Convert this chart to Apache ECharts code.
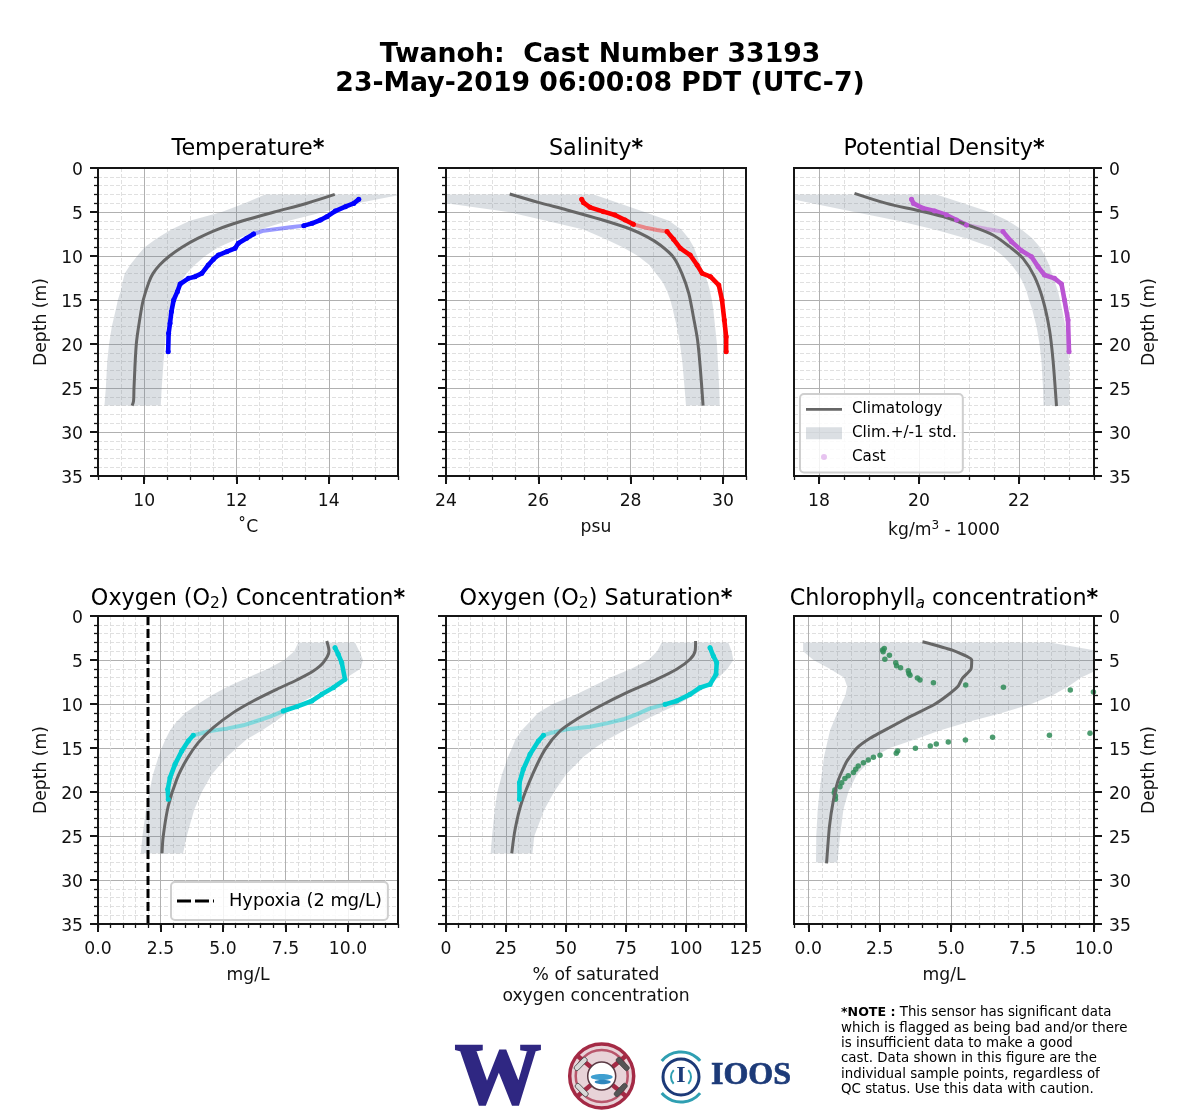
<!DOCTYPE html>
<html><head><meta charset="utf-8">
<style>html,body{margin:0;padding:0;background:#fff}#c{width:1200px;height:1120px}</style>
<script src="https://cdn.jsdelivr.net/npm/echarts@6/dist/echarts.min.js"></script>
</head><body><div id="c"></div>
<script>
const FONT = 'DejaVu Sans';
const depthTicks = [0,5,10,15,20,25,30,35];
const tempTicks = [10,12,14];
const salTicks = [24,26,28,30];
const densTicks = [18,20,22];
const o2Ticks = [0,2.5,5,7.5,10];
const satTicks = [0,25,50,75,100,125];
const chlTicks = [0,2.5,5,7.5,10];

// climatology
const tempClimDepth = [3,4,5,6,7,8,9,10,11,12,13,15,17,20,25,26.5,27];
const tempClim = [14.13,13.53,12.82,12.14,11.58,11.16,10.82,10.55,10.34,10.19,10.1,9.98,9.91,9.83,9.78,9.77,9.74];
const salClimDepth = [2.95,3.9,4.77,5.83,6.93,7.8,8.75,10.15,11.97,14.24,16.9,19.55,22.76,27];
const salClim = [25.38,26.0,26.62,27.34,27.99,28.35,28.64,28.93,29.11,29.26,29.36,29.45,29.51,29.57];
const densClimDepth = [2.88,4.02,4.85,5.53,6.55,7.61,8.94,10.27,12.35,15,18.4,21.8,27.05];
const densClim = [18.71,19.35,20.0,20.48,21.01,21.48,21.81,22.08,22.31,22.48,22.61,22.68,22.75];
const o2ClimDepth = [2.84,3.98,5.3,6.25,7.27,8.33,9.66,10.98,12.69,14.39,16.29,18.56,21.59,25,26.97];
const o2Clim = [9.15,9.24,9.01,8.61,7.95,7.15,6.21,5.41,4.61,4.01,3.55,3.15,2.81,2.61,2.56];
const satClimDepth = [2.84,3.98,4.92,6.06,7.2,8.71,10.23,11.74,13.07,15.15,17.8,21.2,24.24,26.97];
const satClim = [104,103.8,101.7,96.1,87.8,75.3,64.2,54.4,47.5,41.3,36.4,31.5,28.8,27.4];
const chlClimDepth = [2.92,3.86,5,6.06,7.08,7.95,9.09,10.11,11.44,12.65,13.9,15.04,16.55,18.64,20.9,23.94,28.1];
const chlClim = [4.0,5.02,5.72,5.69,5.39,5.25,4.84,4.38,3.56,2.86,2.16,1.69,1.34,1.05,0.88,0.74,0.64];

// climatology +/- 1 std
const bandDepth = [3,4,5,6,7,8,9,10,11,12,13,14,15,16,18,20,22,25,27];
const tempLow = [12.62,12.18,11.68,10.99,10.59,10.27,10.01,9.85,9.70,9.58,9.53,9.49,9.43,9.39,9.30,9.24,9.2,9.17,9.14];
const tempHigh = [15.6,14.62,13.89,13.13,12.51,12.04,11.61,11.32,11.10,10.92,10.78,10.69,10.62,10.56,10.49,10.45,10.42,10.38,10.36];
const salLow = [22.5,24.0,25.35,26.17,26.98,27.43,27.83,28.16,28.4,28.55,28.7,28.79,28.86,28.91,29.0,29.07,29.12,29.17,29.2];
const salHigh = [27.2,27.75,28.3,28.83,29.1,29.26,29.37,29.44,29.51,29.6,29.67,29.72,29.76,29.79,29.83,29.87,29.89,29.92,29.93];
const densLow = [17.0,17.85,18.71,19.58,20.31,20.95,21.45,21.68,21.85,21.98,22.08,22.15,22.2,22.26,22.35,22.41,22.45,22.48,22.49];
const densHigh = [20.35,20.88,21.41,21.78,22.05,22.27,22.42,22.52,22.6,22.66,22.72,22.78,22.82,22.86,22.93,22.97,23.0,23.01,23.01];
const o2Low = [8.01,7.85,7.45,6.8,6.0,5.2,4.55,4.0,3.5,3.15,2.88,2.7,2.55,2.42,2.2,2.05,1.92,1.78,1.71];
const o2High = [10.28,10.45,10.6,10.5,9.95,9.3,8.65,8.0,7.55,7.1,6.55,5.95,5.55,5.15,4.55,4.15,3.85,3.55,3.4];
const satLow = [89.9,88,84.3,77.2,68.5,61,53.5,44.5,38.4,35,31.5,29,27.5,25.9,23.3,21.4,20.3,19.2,18.6];
const satHigh = [117.6,119,119.7,117.3,113.5,109,103,97,89,81.7,74.3,67.5,62,57.3,50,45,41,36.8,36];
const chlBandDepth = [3,4,5,6,7,8,9,10,11,12,13,14,15,16,18,20,22,25,28];
const chlLow = [-0.18,-0.18,0.18,0.75,1.25,1.36,1.3,1.16,1.02,0.89,0.76,0.69,0.62,0.55,0.47,0.39,0.33,0.28,0.27];
const chlHigh = [8.46,10.2,10.9,10.2,9.55,9.1,8.55,7.8,6.8,5.65,4.6,3.75,2.85,2.3,1.7,1.4,1.23,1.11,1.02];

// cast samples; the *Fade pair is the sparsely sampled stretch between two indices
const tempCastDepth = [3.56,4.02,4.39,4.89,5.53,5.91,6.29,6.55,6.74,6.93,7.12,7.5,7.99,8.56,9.13,9.51,9.89,10.38,11.02,11.97,12.35,12.54,13.18,14.05,15,16.33,17.65,18.79,20.87];
const tempCast = [14.65,14.54,14.36,14.14,13.96,13.82,13.64,13.46,13.17,12.88,12.59,12.37,12.22,12.04,11.97,11.79,11.61,11.5,11.39,11.25,11.10,10.96,10.78,10.72,10.64,10.59,10.56,10.53,10.52];
const tempFade = [7,11];
const salCastDepth = [3.56,3.94,4.47,4.96,5.34,5.91,6.4,6.78,7.05,7.23,8.1,9.13,9.89,11.02,11.97,12.35,13.3,15,17.27,19.17,20.87];
const salCast = [26.94,26.98,27.12,27.41,27.66,27.88,28.06,28.32,28.57,28.79,28.93,29.08,29.29,29.44,29.55,29.73,29.91,29.98,30.03,30.07,30.07];
const salFade = [6,9];
const densCastDepth = [3.56,4.02,4.58,4.89,5.34,5.91,6.48,6.93,7.23,8.37,9.39,10.08,11.2,12.16,12.54,13.18,15,17.27,20.87];
const densCast = [19.85,19.89,20.08,20.31,20.55,20.75,20.95,21.35,21.68,21.85,22.05,22.25,22.38,22.51,22.71,22.85,22.91,22.98,23.0];
const densFade = [6,8];
const o2CastDepth = [3.6,4.36,5.3,7.2,8.14,8.9,9.66,10.3,10.8,11.44,11.93,12.42,12.8,13.07,13.56,14.2,15.34,16.86,18.37,19.7,20.83];
const o2Cast = [9.48,9.61,9.75,9.88,9.41,8.95,8.55,7.95,7.41,6.88,6.35,5.81,5.15,4.48,3.81,3.61,3.35,3.08,2.88,2.79,2.81];
const o2Fade = [8,14];
const satCastDepth = [3.6,4.55,5.3,6.63,7.77,8.14,8.9,9.66,10.04,10.5,11.17,11.74,12.2,12.58,12.88,13.26,13.56,14.2,15.72,17.42,18.94,20.83];
const satCast = [110,111.4,112.8,112.5,110,105.8,101.7,96.1,91.3,85,79.4,73.9,66.9,60,50.3,44,40.6,38.5,35,32.2,30.6,30.6];
const satFade = [8,16];
const chlCastDepth = [3.7,3.86,4.05,4.47,4.92,5.3,5.64,5.87,6.21,6.52,6.74,7.05,7.27,7.58,7.84,8.11,8.41,8.64,13.33,13.56,13.79,14.09,14.32,14.55,14.77,15.04,15.34,15.6,15.83,16.06,16.36,16.67,17.05,17.42,17.77,18.14,18.48,18.94,19.39,19.77,20.08,20.45,20.83];
const chlCast = [2.66,2.6,2.62,2.84,2.68,3.06,3.09,3.23,3.5,3.52,3.56,3.82,3.91,4.38,5.51,6.83,9.17,9.98,9.86,8.44,6.45,5.5,4.9,4.48,4.27,3.75,3.13,3.08,2.51,2.28,2.1,1.93,1.75,1.66,1.58,1.4,1.28,1.17,1.11,0.93,0.91,0.95,0.95];
const hypoxiaX = [2,2];
const hypoxiaDepth = [0,35];

const zip = (xs, ys) => xs.map((x, i) => [x, ys[i]]);
const GREY = '#666666', BAND = 'rgba(112,128,144,0.25)';
const AX = 17.2, TT = 22.3;
const panels = [
 {t:'Temperature{b|*}', name:'˚C', min:9, max:15.5, step:0.5, ticks:tempTicks, fmt:v=>String(v), smooth:0.3,
  cd:tempClimDepth, c:tempClim, bd:bandDepth, lo:tempLow, hi:tempHigh, xd:tempCastDepth, x:tempCast, fade:tempFade, col:'#0000ff', key:'Temperature'},
 {t:'Salinity{b|*}', name:'psu', min:24, max:30.5, step:0.5, ticks:salTicks, fmt:v=>String(v), smooth:0.3,
  cd:salClimDepth, c:salClim, bd:bandDepth, lo:salLow, hi:salHigh, xd:salCastDepth, x:salCast, fade:salFade, col:'#ff0000', key:'Salinity'},
 {t:'Potential Density{b|*}', name:'kg/m{sup|3} - 1000', min:17.5, max:23.5, step:0.5, ticks:densTicks, fmt:v=>String(v), smooth:0.3,
  cd:densClimDepth, c:densClim, bd:bandDepth, lo:densLow, hi:densHigh, xd:densCastDepth, x:densCast, fade:densFade, col:'#ba55d3', key:''},
 {t:'Oxygen (O{sub|2}) Concentration{b|*}', name:'mg/L', min:0, max:12, step:0.5, ticks:o2Ticks, fmt:v=>v.toFixed(1), smooth:0.3,
  cd:o2ClimDepth, c:o2Clim, bd:bandDepth, lo:o2Low, hi:o2High, xd:o2CastDepth, x:o2Cast, fade:o2Fade, col:'#00ced1', key:'O2'},
 {t:'Oxygen (O{sub|2}) Saturation{b|*}', name:'% of saturated\noxygen concentration', min:0, max:125, step:5, ticks:satTicks, fmt:v=>String(v), smooth:0.3,
  cd:satClimDepth, c:satClim, bd:bandDepth, lo:satLow, hi:satHigh, xd:satCastDepth, x:satCast, fade:satFade, col:'#00ced1', key:'Sat'},
 {t:'Chlorophyll{ita|a} concentration{b|*}', name:'mg/L', min:-0.5, max:10, step:0.5, ticks:chlTicks, fmt:v=>v.toFixed(1), smooth:0.15,
  cd:chlClimDepth, c:chlClim, bd:chlBandDepth, lo:chlLow, hi:chlHigh, xd:chlCastDepth, x:chlCast, fade:null, col:'#2e8b57', key:'Chl'}
];
const lefts = [98,446,794], tops = [168,616], W = 300, H = 308;
const grid=[], xAxis=[], yAxis=[], series=[], title=[];
const richTitle = {
  b:{fontFamily:FONT,fontSize:TT,fontWeight:'bold',color:'#000'},
  sub:{fontFamily:FONT,fontSize:15.5,color:'#000',verticalAlign:'bottom',lineHeight:26},
  ita:{fontFamily:FONT,fontSize:15.5,fontStyle:'italic',color:'#000',verticalAlign:'bottom',lineHeight:26}
};
panels.forEach((p,i)=>{
  const col=i%3,row=i<3?0:1,left=lefts[col],top=tops[row];
  grid.push({left,top,width:W,height:H,show:true,z:10,backgroundColor:'transparent',borderColor:'#151515',borderWidth:2});
  xAxis.push({type:'value',gridIndex:i,position:'bottom',min:p.min,max:p.max,interval:p.step,
    axisLine:{show:false,onZero:false},axisLabel:{show:false},
    axisTick:{show:true,length:4,lineStyle:{color:'#151515',width:1.3}},
    splitLine:{show:true,lineStyle:{color:'#d8d8d8',type:[4,2],width:0.8}}});
  xAxis.push({type:'value',gridIndex:i,position:'bottom',min:p.min,max:p.max,
    axisLine:{show:false,onZero:false},
    axisLabel:{show:true,customValues:p.ticks,formatter:p.fmt,fontFamily:FONT,fontSize:AX,color:'#111',margin:17},
    axisTick:{show:true,customValues:p.ticks,length:8,lineStyle:{color:'#151515',width:2}},
    splitLine:{show:true,lineStyle:{color:'#b0b0b0',width:1}},
    name:p.name,nameLocation:'middle',nameGap:i===4?41:(i===2?44:41),
    nameTextStyle:{fontFamily:FONT,fontSize:AX,color:'#111',lineHeight:21,
      rich:{sup:{fontFamily:FONT,fontSize:12,color:'#111',verticalAlign:'top',lineHeight:21}}}});
  const showLabel = col!==1;
  yAxis.push({type:'value',gridIndex:i,inverse:true,min:0,max:35,interval:5,position:col===2?'right':'left',
    axisLine:{show:false,onZero:false},
    axisLabel:{show:showLabel,customValues:depthTicks,fontFamily:FONT,fontSize:AX,color:'#111',margin:15,verticalAlign:'top',lineHeight:6},
    axisTick:{show:true,length:8,lineStyle:{color:'#151515',width:2}},
    minorTick:{show:true,splitNumber:5,length:4,lineStyle:{color:'#151515',width:1.3}},
    splitLine:{show:true,lineStyle:{color:'#b0b0b0',width:1}},
    minorSplitLine:{show:true,lineStyle:{color:'#d8d8d8',type:[4,2],width:0.8}},
    name:showLabel?'Depth (m)':'',nameLocation:'middle',nameRotate:90,nameGap:col===2?47:48,
    nameTextStyle:{fontFamily:FONT,fontSize:AX,color:'#111'}});
  title.push({text:p.t,left:left+W/2,top:top-30,padding:0,textAlign:'center',
    textStyle:{fontFamily:FONT,fontSize:TT,fontWeight:'normal',color:'#000',rich:richTitle}});

  const xi=2*i, yi=i;
  series.push({type:'custom',name:col===2&&row===0?'Clim.+/-1 std.':p.key+' band',xAxisIndex:xi,yAxisIndex:yi,clip:true,silent:true,
    itemStyle:{color:BAND},
    encode:{x:1,y:0},data:zip(p.bd,p.lo),
    renderItem:(params,api)=>{
      if(params.dataIndex!==0) return null;
      const pts=[];
      p.bd.forEach((d,k)=>pts.push(api.coord([p.lo[k],d])));
      for(let k=p.bd.length-1;k>=0;k--) pts.push(api.coord([p.hi[k],p.bd[k]]));
      return {type:'polygon',shape:{points:pts},style:{fill:BAND}};
    }});
  const pts=zip(p.x,p.xd);
  if(p.fade){
    const [a,b]=p.fade;
    const solid=(data,nm)=>({type:'line',name:nm,xAxisIndex:xi,yAxisIndex:yi,clip:true,silent:true,data,
      showSymbol:true,symbol:'circle',symbolSize:5,showAllSymbol:true,
      lineStyle:{color:p.col,width:4.6,cap:'round',join:'round'},itemStyle:{color:p.col}});
    series.push(solid(pts.slice(0,a+1),col===2?'Cast':p.key+' cast'));
    series.push({type:'line',name:p.key+' sparse cast '+i,xAxisIndex:xi,yAxisIndex:yi,clip:true,silent:true,data:pts.slice(a,b+1),
      symbol:'none',lineStyle:{color:p.col,width:4,opacity:0.4,cap:'round',join:'round'},itemStyle:{color:p.col}});
    series.push(solid(pts.slice(b),p.key+' deep cast '+i));
  } else {
    series.push({type:'scatter',name:'Chl cast',xAxisIndex:xi,yAxisIndex:yi,clip:true,silent:true,data:pts,
      symbol:'circle',symbolSize:5.5,itemStyle:{color:p.col,opacity:0.85}});
  }
  series.push({type:'line',name:col===2&&row===0?'Climatology':p.key+' climatology',xAxisIndex:xi,yAxisIndex:yi,clip:true,silent:true,
    data:zip(p.c,p.cd),symbol:'none',smooth:p.smooth,lineStyle:{color:GREY,width:3,join:'round'},itemStyle:{color:GREY}});
  if(i===3){
    series.push({type:'line',name:'Hypoxia (2 mg/L)',xAxisIndex:xi,yAxisIndex:yi,clip:true,silent:true,
      data:zip(hypoxiaX,hypoxiaDepth),symbol:'none',
      lineStyle:{color:'#000',width:3,type:[9,4]},itemStyle:{color:'#000'}});
  }
});
title.push({text:'Twanoh:  Cast Number 33193\n23-May-2019 06:00:08 PDT (UTC-7)',left:600,top:41,padding:0,textAlign:'center',
  textStyle:{fontFamily:FONT,fontSize:26.7,fontWeight:'bold',color:'#000',lineHeight:29}});

const speck='M0 0h.01v.01h-.01zM30 14h.01v.01h-.01z';
const legend=[
 {left:800,top:394,orient:'vertical',padding:[7,6,7,6],itemGap:7,itemWidth:36,itemHeight:20,
  backgroundColor:'rgba(255,255,255,0.85)',borderColor:'#cfcfcf',borderWidth:2,borderRadius:4,selectedMode:false,
  textStyle:{fontFamily:FONT,fontSize:15.2,color:'#000',padding:[0,5,0,5]},
  data:[{name:'Climatology',icon:'path://'+speck+'M0 5.8h30v2.4H0z'},
        {name:'Clim.+/-1 std.',icon:'path://'+speck+'M0 2h30v10H0z'},
        {name:'Cast',icon:'path://'+speck+'M15 4.5a2.5 2.5 0 1 0 .01 0z',itemStyle:{opacity:0.35}}]},
 {left:171,top:882,orient:'horizontal',padding:[8,6,8,6],itemWidth:38,itemHeight:22,
  backgroundColor:'rgba(255,255,255,0.85)',borderColor:'#cfcfcf',borderWidth:2,borderRadius:4,selectedMode:false,
  textStyle:{fontFamily:FONT,fontSize:17.8,color:'#000',padding:[0,5,0,9]},
  data:[{name:'Hypoxia (2 mg/L)',icon:'path://M0 0h.01v.01h-.01zM38 22h.01v.01h-.01zM0 9.5h14v3H0zM18 9.5h14v3H18zM36 9.5h1v3h-1z'}]}
];

// logos
const NAVY='#1c3a78',TEAL='#2f9fb2',CRIM='#a42a45',UWP='#2f2782';
const arc=(cx,cy,r,a,b,color,w)=>({type:'arc',shape:{cx,cy,r,startAngle:a,endAngle:b},style:{stroke:color,lineWidth:w,fill:null},silent:true});
const bar=(x,y,rot,color)=>({type:'rect',x,y,rotation:rot,shape:{x:-8,y:-2.5,width:16,height:5,r:2},style:{fill:color,stroke:'#444',lineWidth:0.8},silent:true});
const cx=601.7,cy=1076,ix=681,iy=1077;
const graphicEls=[
 {type:'text',silent:true,style:{x:498,y:1124,text:'W',font:'bold 86px "Liberation Serif"',fill:UWP,stroke:UWP,lineWidth:2.5,textAlign:'center',verticalAlign:'bottom'}},
 {type:'circle',silent:true,shape:{cx,cy,r:32},style:{fill:'#e8d3d8',stroke:CRIM,lineWidth:3.5}},
 arc(cx,cy,26,0,Math.PI*2,'#b8566b',2.5),
 {type:'line',silent:true,shape:{x1:cx-24,y1:cy-20,x2:cx+24,y2:cy+20},style:{stroke:CRIM,lineWidth:4.5}},
 {type:'line',silent:true,shape:{x1:cx+24,y1:cy-20,x2:cx-24,y2:cy+20},style:{stroke:CRIM,lineWidth:4.5}},
 bar(cx-21,cy-12,0.8,'#d8d8d8'),bar(cx+21,cy-12,-0.8,'#555'),bar(cx-20,cy+14,-0.8,'#d8d8d8'),bar(cx+19,cy+14,0.8,'#555'),
 {type:'circle',silent:true,shape:{cx,cy,r:14},style:{fill:'#fff',stroke:'#5a3a44',lineWidth:1.5}},
 {type:'ellipse',silent:true,shape:{cx,cy:cy+1,rx:11,ry:3},style:{fill:'#3f9fd0'}},
 {type:'ellipse',silent:true,shape:{cx:cx+1,cy:cy+6,rx:8,ry:2.2},style:{fill:'#2f86bd'}},
 arc(ix,iy,25,-2.45,-0.7,TEAL,3),arc(ix,iy,25,0.7,2.45,TEAL,3),
 arc(ix,iy,18,0,Math.PI*2,NAVY,3),
 arc(ix,iy,10,2.4,3.9,TEAL,2),arc(ix,iy,10,-0.75,0.75,TEAL,2),
 {type:'text',silent:true,style:{x:ix,y:iy+11,text:'I',font:'bold 24px "Liberation Serif"',fill:NAVY,textAlign:'center',verticalAlign:'bottom'}},
 {type:'text',silent:true,style:{x:711,y:1092,text:'IOOS',font:'bold 32px "Liberation Serif"',fill:NAVY,stroke:NAVY,lineWidth:0.7,textAlign:'left',verticalAlign:'bottom'}},
 {type:'text',silent:true,style:{x:841,y:1005,
   text:'{n|*NOTE :} This sensor has significant data\nwhich is flagged as being bad and/or there\nis insufficient data to make a good\ncast. Data shown in this figure are the\nindividual sample points, regardless of\nQC status. Use this data with caution.',
   font:'13.4px "DejaVu Sans"',fill:'#000',lineHeight:15.4,textAlign:'left',verticalAlign:'top',
   rich:{n:{font:'bold 12.6px "DejaVu Sans"',fill:'#000',lineHeight:15.4}}}}
];

const chart=echarts.init(document.getElementById('c'),null,{renderer:'canvas'});
chart.setOption({animation:false,backgroundColor:'#fff',title,grid,xAxis,yAxis,series,legend,graphic:{elements:graphicEls}});
</script></body></html>
